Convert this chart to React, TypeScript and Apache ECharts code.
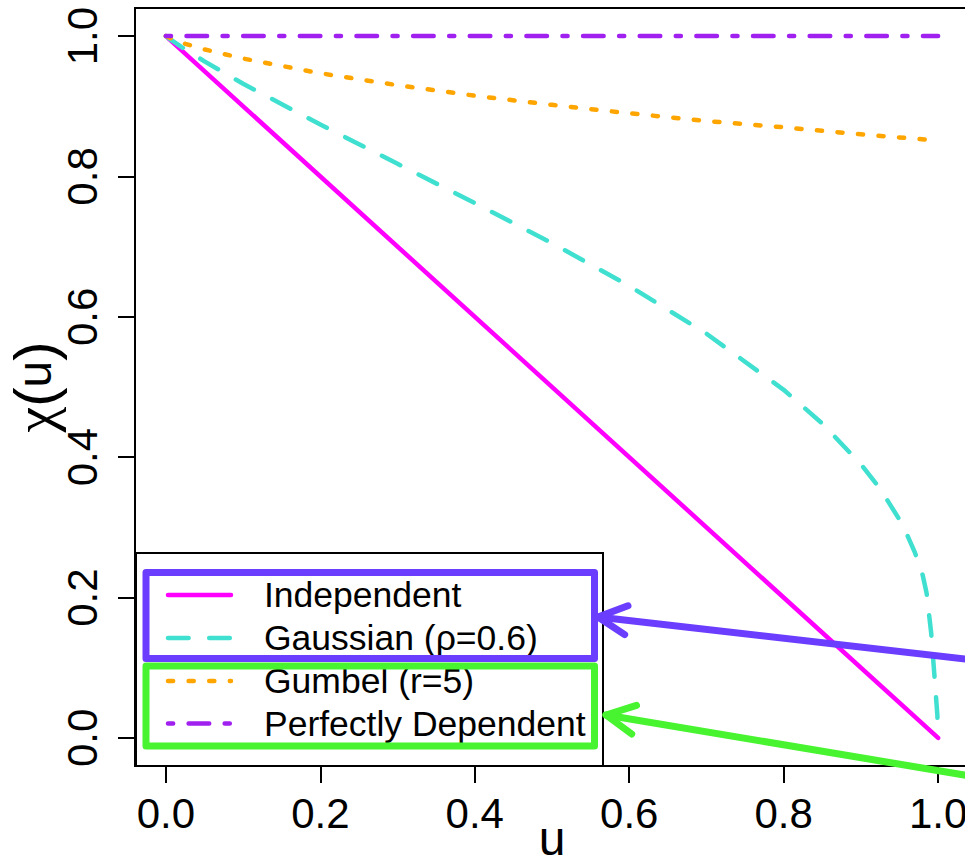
import React, { useEffect, useRef } from "react";
import * as echarts from "echarts";

// Tail-dependence coefficient chi(u) for four copula families
const FONT = "'Liberation Sans', Arial, Helvetica, sans-serif";
const SERIF = "'Liberation Serif', 'DejaVu Serif', serif";

const xTicks = [0, 0.2, 0.4, 0.6, 0.8, 1.0];
const yTicks = [0, 0.2, 0.4, 0.6, 0.8, 1.0];

const legendNames = [
  "Independent",
  "Gaussian (\u03C1=0.6)",
  "Gumbel (r=5)",
  "Perfectly Dependent",
];

const uIndependent = [0, 1];
const chiIndependent = [1, 0];

const uGaussian = [
  0, 0.01, 0.025, 0.05, 0.1, 0.2, 0.3, 0.4, 0.5, 0.6, 0.7, 0.8, 0.85, 0.9,
  0.925, 0.95, 0.96, 0.97, 0.98, 0.985, 0.991, 0.995, 0.999, 1,
];
const chiGaussian = [
  1, 0.992, 0.981, 0.964, 0.932, 0.874, 0.818, 0.762, 0.705, 0.644, 0.576,
  0.496, 0.448, 0.39, 0.355, 0.311, 0.289, 0.264, 0.232, 0.207, 0.15, 0.092,
  0.033, 0,
];

const uGumbel = [0, 0.01, 0.025, 0.05, 0.1, 0.2, 0.3, 0.4, 0.5, 0.6, 0.7, 0.8, 0.9, 0.99];
const chiGumbel = [
  1, 0.995, 0.989, 0.981, 0.968, 0.947, 0.93, 0.915, 0.902, 0.89, 0.879, 0.87,
  0.86, 0.852,
];

const uPerfect = [0, 1];
const chiPerfect = [1, 1];

const COLORS = ["#FF00FF", "#40E0D0", "#FFA500", "#A020F0"];
const LW = 4.5;
const U = 5.15; // base unit of the dash patterns
const DASHES: (number[] | "solid")[] = [
  "solid",
  [4 * U, 4 * U],
  [U, 3 * U],
  [U, 3 * U, 4 * U, 3 * U],
];

const pairs = (u: number[], c: number[]) => u.map((x, i) => [x, c[i]]);

export default function App() {
  const ref = useRef<HTMLDivElement>(null);

  useEffect(() => {
    document.body.style.margin = "0";
    if (!ref.current) return;
    const chart = echarts.init(ref.current, null, { renderer: "svg" });

    const seriesData = [
      pairs(uIndependent, chiIndependent),
      pairs(uGaussian, chiGaussian),
      pairs(uGumbel, chiGumbel),
      pairs(uPerfect, chiPerfect),
    ];

    const series = seriesData.map((d, i) => ({
      type: "line",
      name: legendNames[i],
      data: d,
      symbol: "none",
      showSymbol: false,
      silent: true,
      z: 2 + i,
      lineStyle: {
        color: COLORS[i],
        width: LW,
        type: DASHES[i],
        cap: "round",
        join: "round",
      },
    }));

    // legend block (bottom-left, inside plot box)
    const rowY = [595, 638, 681, 723.5];
    const legendEls: any[] = [
      {
        type: "rect",
        shape: { x: 136, y: 553, width: 467, height: 213 },
        style: { fill: "#fff", stroke: "#000", lineWidth: 2 },
        z: 10,
      },
    ];
    legendNames.forEach((name, i) => {
      legendEls.push({
        type: "line",
        shape: { x1: 168, y1: rowY[i], x2: 231, y2: rowY[i] },
        style: {
          stroke: COLORS[i],
          lineWidth: LW,
          lineDash: DASHES[i] === "solid" ? null : DASHES[i],
          lineCap: "round",
        },
        z: 11,
      });
      legendEls.push({
        type: "text",
        x: 264,
        y: rowY[i],
        style: {
          text: name,
          fontSize: 35.5,
          fontFamily: FONT,
          fill: "#000",
          align: "left",
          verticalAlign: "middle",
        },
        z: 11,
      });
    });

    // highlight frames and pointing arrows
    const BLUE = "#6B3DFF";
    const GREEN = "#47F42F";
    const HL = 7;
    const arrow = (tip: number[], end: number[], color: string) => {
      const ang = Math.atan2(end[1] - tip[1], end[0] - tip[0]);
      const a = (27 * Math.PI) / 180;
      const len = 32;
      const w1 = [tip[0] + len * Math.cos(ang - a), tip[1] + len * Math.sin(ang - a)];
      const w2 = [tip[0] + len * Math.cos(ang + a), tip[1] + len * Math.sin(ang + a)];
      const st = { stroke: color, lineWidth: HL, lineCap: "round", lineJoin: "round", fill: null };
      return [
        { type: "polyline", shape: { points: [end, tip] }, style: st, z: 20 },
        { type: "polyline", shape: { points: [w1, tip, w2] }, style: st, z: 20 },
      ];
    };
    const highlightEls: any[] = [
      {
        type: "rect",
        shape: { x: 146, y: 572.5, width: 448.5, height: 86 },
        style: { fill: null, stroke: BLUE, lineWidth: HL, lineJoin: "round" },
        z: 20,
      },
      {
        type: "rect",
        shape: { x: 146, y: 666, width: 448.5, height: 80 },
        style: { fill: null, stroke: GREEN, lineWidth: HL, lineJoin: "round" },
        z: 20,
      },
      ...arrow([598, 617], [1000, 663], BLUE),
      ...arrow([606, 715], [1000, 781], GREEN),
    ];

    const axisCommon = {
      type: "value",
      min: -0.04,
      max: 1.04,
      axisLine: { show: false, onZero: false },
      splitLine: { show: false },
      nameMoveOverlap: false,
    };

    chart.setOption({
      animation: false,
      grid: {
        left: 135,
        top: 8,
        width: 834,
        height: 758,
        containLabel: false,
        outerBoundsMode: "none",
        show: true,
        borderColor: "#000",
        borderWidth: 2,
        backgroundColor: "transparent",
      },
      xAxis: {
        ...axisCommon,
        axisTick: {
          show: true,
          customValues: xTicks,
          length: 17,
          lineStyle: { color: "#000", width: 2 },
        },
        axisLabel: {
          customValues: xTicks,
          formatter: (v: number) => v.toFixed(1),
          fontSize: 42,
          fontFamily: FONT,
          color: "#000",
          margin: 26,
        },
        name: "u",
        nameLocation: "middle",
        nameGap: 54,
        nameTextStyle: { fontSize: 48, fontFamily: FONT, color: "#000", lineHeight: 36 },
      },
      yAxis: {
        ...axisCommon,
        axisTick: {
          show: true,
          customValues: yTicks,
          length: 17,
          lineStyle: { color: "#000", width: 2 },
        },
        axisLabel: {
          customValues: yTicks,
          formatter: (v: number) => v.toFixed(1),
          fontSize: 42,
          fontFamily: FONT,
          color: "#000",
          rotate: 90,
          margin: 32,
        },
        name: "{c|\u03C7}{p|(}u{p|)}",
        nameLocation: "middle",
        nameRotate: 90,
        nameGap: 73,
        nameTextStyle: {
          fontSize: 48,
          fontFamily: FONT,
          color: "#000",
          lineHeight: 56,
          rich: {
            c: { fontSize: 58, fontFamily: SERIF, color: "#000", lineHeight: 56 },
            p: { fontSize: 58, fontFamily: FONT, color: "#000", lineHeight: 56 },
          },
        },
      },
      series,
      graphic: [...legendEls, ...highlightEls],
    });

    return () => chart.dispose();
  }, []);

  return <div ref={ref} style={{ width: 965, height: 860 }} />;
}
